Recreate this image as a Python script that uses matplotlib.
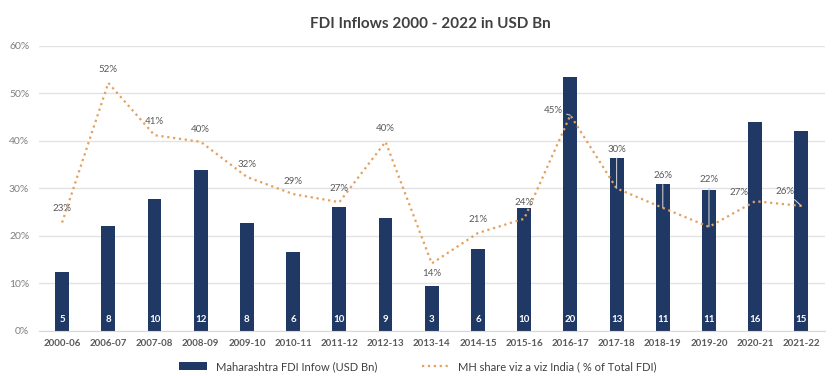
import numpy as np
import matplotlib.pyplot as plt
from matplotlib.ticker import FuncFormatter

plt.rcParams["font.family"] = ["Lato", "DejaVu Sans"]

years = ["2000-06", "2006-07", "2007-08", "2008-09", "2009-10", "2010-11",
         "2011-12", "2012-13", "2013-14", "2014-15", "2015-16", "2016-17",
         "2017-18", "2018-19", "2019-20", "2020-21", "2021-22"]
# Maharashtra FDI inflow, USD Bn
mh_fdi = [4.55, 8.12, 10.16, 12.39, 8.29, 6.12, 9.55, 8.73, 3.45, 6.34,
          9.52, 19.62, 13.38, 11.37, 10.85, 16.13, 15.44]
# MH share of India's total FDI, %
mh_share = [22.8, 52.2, 41.2, 39.8, 32.4, 28.8, 27.1, 39.8, 14.2, 20.6,
            23.6, 45.4, 30.0, 25.9, 21.9, 27.3, 26.3]

navy = "#203864"
orange = "#E3A15E"

# label offsets (points) for the share labels, and which get a leader line
offsets = [(0, 10), (0, 9.5), (0, 9.5), (0, 9), (0, 9), (0, 9), (0, 9.5),
           (0, 9.5), (0, -7.5), (0, 9.5), (0, 11.5), (-12.5, 3.5), (0, 28),
           (0, 23), (0, 34), (-12, 6.5), (-11.5, 10.5)]
leaders = {11, 12, 13, 14, 16}

fig = plt.figure(figsize=(8.36, 3.76), dpi=100)
ax = fig.add_axes([39 / 836, 0.12, (824.5 - 39) / 836, 0.758])

x = np.arange(len(years))
ax.bar(x, mh_fdi, width=0.3, color=navy, zorder=2,
       label="Maharashtra FDI Infow (USD Bn)")
ax.set_ylim(0, 22)
ax.set_yticks(np.linspace(0, 22, 7))
ax.grid(axis="y", color="#e3e3e3", lw=1, zorder=0)
ax.set_xticks(x)
ax.set_xticklabels(years, fontweight="bold")
ax.set_xlim(-0.5, len(years) - 0.5)
for s in ["top", "left", "right"]:
    ax.spines[s].set_visible(False)
ax.spines["bottom"].set_color("#d9d9d9")

for xi, v in zip(x, mh_fdi):
    ax.annotate(f"{v:.0f}", (xi, 0), xytext=(0, 8), textcoords="offset points",
                ha="center", va="center", color="white", fontsize=7,
                fontweight="bold")

ax2 = ax.twinx()
ax2.plot(x, mh_share, ls=":", lw=1.6, color=orange,
         label="MH share viz a viz India ( % of Total FDI)")
ax2.set_ylim(0, 60)
ax2.set_yticks(np.arange(0, 61, 10))
ax2.yaxis.set_major_formatter(FuncFormatter(lambda v, p: f"{v:.0f}%"))
ax2.tick_params(axis="y", left=False, right=False, labelleft=True,
                labelright=False, length=0, pad=7, labelsize=7.5,
                labelcolor="#7f7f7f")
for s in ax2.spines.values():
    s.set_visible(False)

# twinx re-enables ticks on the host axes, so switch them off here
ax.tick_params(axis="y", left=False, right=False, labelleft=False,
               labelright=False, length=0)
ax.tick_params(axis="x", length=0, pad=6, labelsize=7, labelcolor="#595959")

for i, (xi, v) in enumerate(zip(x, mh_share)):
    arrow = None
    if i in leaders:
        arrow = dict(arrowstyle="-", color="#c8c8c8", lw=0.8, shrinkA=1, shrinkB=0)
    ax2.annotate(f"{v:.0f}%", (xi, v), xytext=offsets[i],
                 textcoords="offset points", ha="center", va="center",
                 fontsize=7, color="#595959", arrowprops=arrow)

fig.suptitle("FDI Inflows 2000 - 2022 in USD Bn", x=0.515, y=0.955,
             fontsize=11, fontweight="bold", color="#404040")

h1, l1 = ax.get_legend_handles_labels()
h2, l2 = ax2.get_legend_handles_labels()
fig.legend(h1 + h2, l1 + l2, loc="center", bbox_to_anchor=(0.5, 0.025), ncol=2,
           frameon=False, fontsize=8, labelcolor="#404040",
           handlelength=2.5, columnspacing=4, borderpad=0)

fig.savefig("out.png", dpi=100)
